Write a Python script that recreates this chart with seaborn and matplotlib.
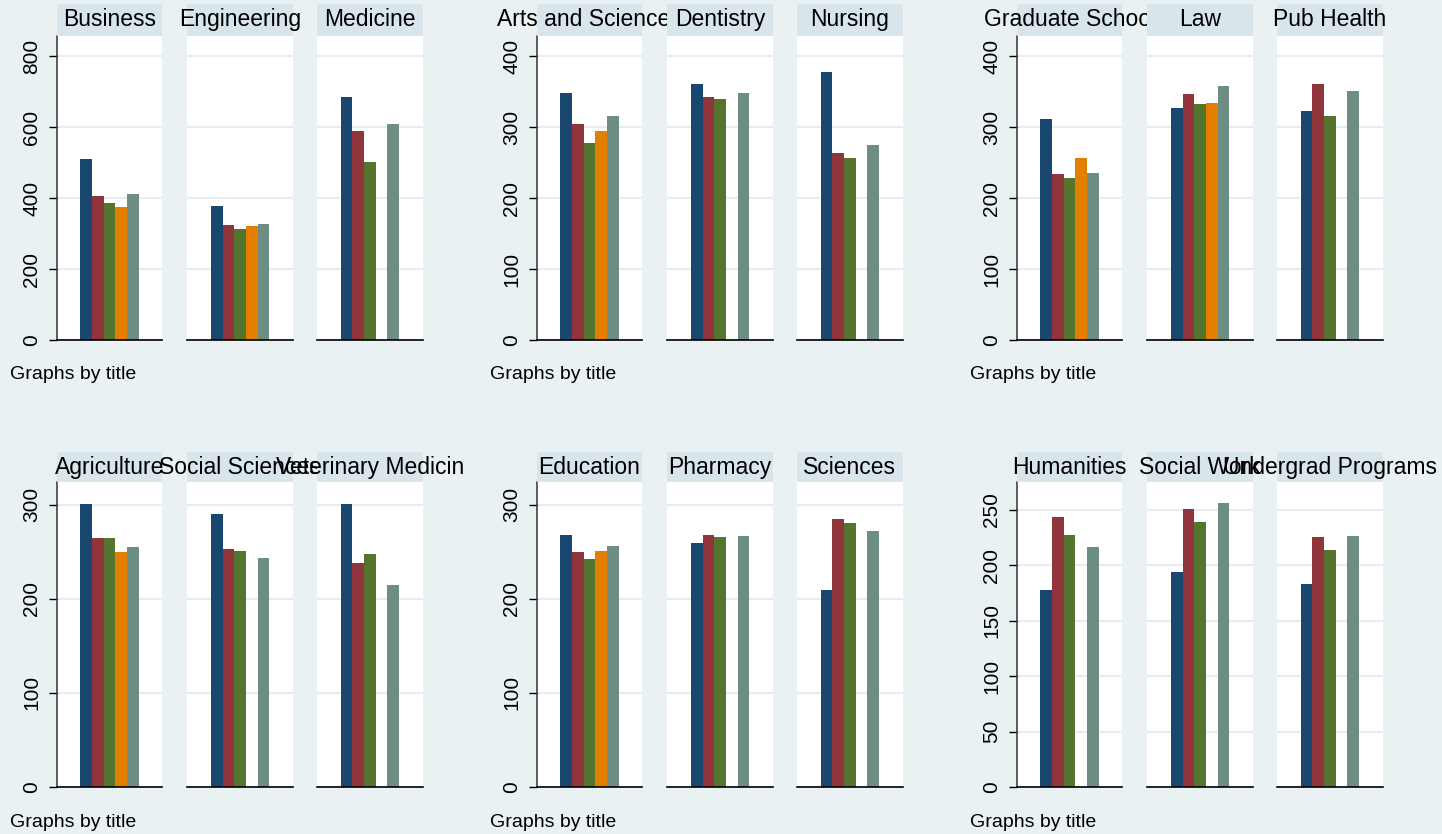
import numpy as np
import pandas as pd
import matplotlib
matplotlib.use("Agg")
import matplotlib.pyplot as plt
import seaborn as sns
from matplotlib.patches import Rectangle

nan = np.nan

# ---- data ----
titles = ["Business", "Engineering", "Medicine",
          "Arts and Sciences", "Dentistry", "Nursing",
          "Graduate School", "Law", "Pub Health",
          "Agriculture", "Social Sciences", "Veterinary Medicin",
          "Education", "Pharmacy", "Sciences",
          "Humanities", "Social Work", "Undergrad Programs"]
series_names = ["s1", "s2", "s3", "s4", "s5"]
navy_vals   = [511, 379, 686, 348, 361, 378, 311, 327, 323, 301, 290, 301, 268, 259, 209, 178, 194, 183]
maroon_vals = [407, 323, 590, 304, 342, 264, 234, 347, 361, 265, 253, 238, 250, 268, 285, 243, 251, 225]
green_vals  = [387, 314, 501, 277, 339, 257, 228, 332, 316, 264, 251, 247, 242, 266, 280, 227, 239, 214]
orange_vals = [375, 320, nan, 295, nan, nan, 257, 334, nan, 250, nan, nan, 251, nan, nan, nan, nan, nan]
teal_vals   = [412, 326, 610, 316, 348, 275, 235, 358, 351, 255, 243, 215, 256, 267, 272, 216, 256, 226]
group_ticks = [[0, 200, 400, 600, 800], [0, 100, 200, 300, 400], [0, 100, 200, 300, 400],
               [0, 100, 200, 300], [0, 100, 200, 300], [0, 50, 100, 150, 200, 250]]
group_ymax = [857, 428.5, 428.5, 324, 324, 275]
note_text = "Graphs by title"

palette = ["#1a476f", "#90353b", "#55752f", "#e37e00", "#6e8e84"]
BG = "#eaf1f3"
STRIP = "#d8e5ea"
GRID = "#e6eef1"

rows = []
for i, t in enumerate(titles):
    for s, vals in zip(series_names, [navy_vals, maroon_vals, green_vals, orange_vals, teal_vals]):
        rows.append({"title": t, "series": s, "value": vals[i]})
df = pd.DataFrame(rows)

sns.set_theme(style="white")
plt.rcParams["font.family"] = ["Liberation Sans", "DejaVu Sans"]

W, H = 1442, 834
fig = plt.figure(figsize=(W / 100, H / 100), dpi=100, facecolor=BG)

panel_lefts = [56.7, 187.3, 317.0]
panel_w = 105.7
row_geo = [  # strip_top, strip_bottom, plot_bottom, strip text baseline, note baseline
    (4, 36, 340, 26, 379),
    (452, 482, 787, 474, 827),
]

z = 10
for g in range(6):
    r, c = divmod(g, 3)
    gx = c * 480
    st, sb, pb, tb, nb = row_geo[r]
    for j in range(3):
        t = titles[g * 3 + j]
        left = gx + panel_lefts[j]
        ax = fig.add_axes([left / W, 1 - pb / H, panel_w / W, (pb - sb) / H])
        ax.set_facecolor("white")
        sub = df[df["title"] == t]
        sns.barplot(data=sub, x="title", y="value", hue="series", hue_order=series_names,
                    palette=palette, width=0.55, saturation=1, linewidth=0,
                    errorbar=None, legend=False, ax=ax)
        ax.set_xlim(-0.5, 0.5)
        ax.set_ylim(0, group_ymax[g])
        ax.set_yticks(group_ticks[g])
        ax.set_xticks([])
        ax.set_xlabel("")
        ax.set_ylabel("")
        ax.set_axisbelow(True)
        ax.yaxis.grid(True, color=GRID, linewidth=1.6)
        ax.xaxis.grid(False)
        for sp in ["top", "right"]:
            ax.spines[sp].set_visible(False)
        ax.spines["bottom"].set_color("black")
        ax.spines["bottom"].set_linewidth(1.2)
        if j == 0:
            ax.spines["left"].set_color("#333333")
            ax.spines["left"].set_linewidth(1.1)
            ax.tick_params(axis="y", left=True, labelleft=True, direction="out",
                           length=6, width=1, color="black", pad=5,
                           labelsize=15, labelcolor="black", labelrotation=90)
            for lab in ax.get_yticklabels():
                lab.set_va("center")
        else:
            ax.spines["left"].set_visible(False)
            ax.tick_params(axis="y", left=False, labelleft=False)
        # strip
        fig.add_artist(Rectangle((left / W, 1 - sb / H), panel_w / W, (sb - st) / H,
                                 transform=fig.transFigure, facecolor=STRIP,
                                 edgecolor="none", zorder=z))
        fig.text((left + panel_w / 2) / W, 1 - tb / H, t, ha="center", va="baseline",
                 fontsize=16.5, color="black", zorder=z + 1)
        z += 2
    fig.text((gx + 10) / W, 1 - nb / H, note_text, ha="left", va="baseline",
             fontsize=14, color="black")

fig.savefig("out.png", dpi=100, facecolor=BG)
